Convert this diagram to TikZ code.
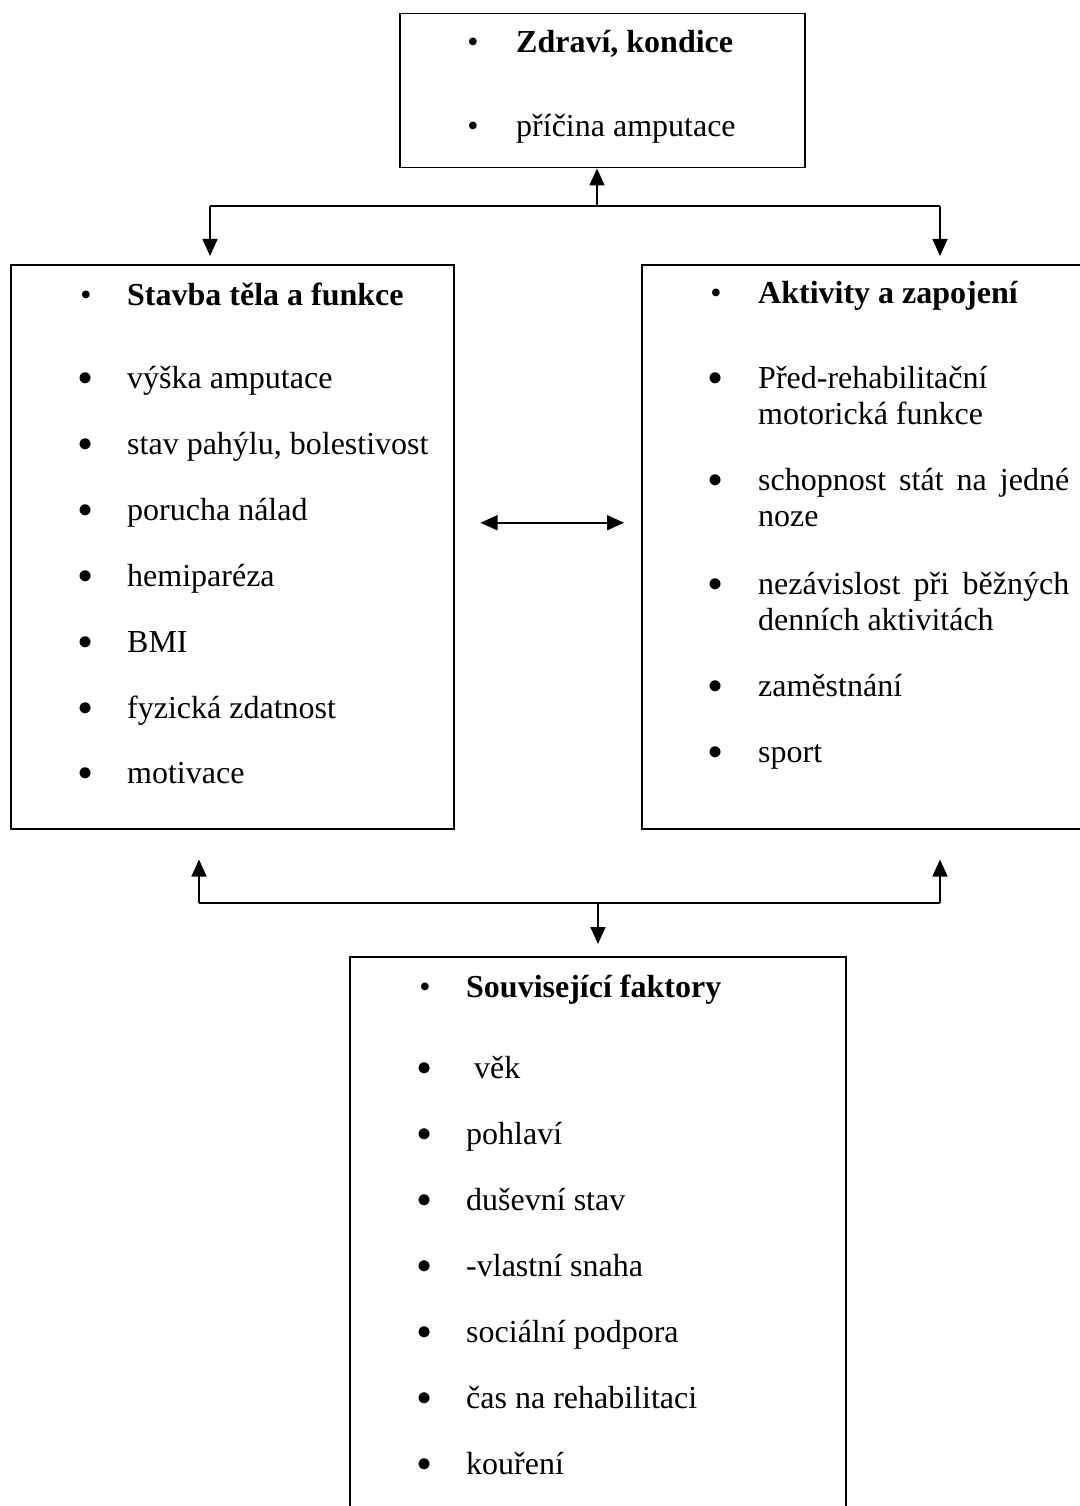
\documentclass[tikz,border=0pt]{standalone}
\usepackage{fontspec}
\setmainfont{Liberation Serif}
\usetikzlibrary{arrows.meta, positioning, calc}

\begin{document}
\begin{tikzpicture}[
    x=1pt, y=-1pt,
    every node/.style={font=\fontsize{32}{37}\selectfont, inner sep=0pt},
    box/.style={rectangle, draw=black, line width=1.5pt, anchor=north west},
    item/.style={anchor=base west},
    ttl/.style={anchor=base west, font=\fontsize{32}{37}\selectfont\bfseries},
    hdot/.style={anchor=base, font=\fontsize{32}{32}\selectfont},
    ldot/.style={anchor=base, font=\fontsize{46}{46}\selectfont, yshift=-5pt},
    link/.style={line width=1.6pt},
    arr/.style={-{Triangle[length=17pt, width=15pt]}, line width=1.6pt},
    dblarr/.style={{Triangle[length=17pt, width=15pt]}-{Triangle[length=17pt, width=15pt]}, line width=1.6pt},
]
\useasboundingbox (0,0) rectangle (1079,1506);

% ---------------------------------------------------------------- boxes
\node[box, minimum width=405pt, minimum height=154pt] (zdravi) at (399,13) {};
\node[box, minimum width=443pt, minimum height=564pt] (stavba) at (10,264) {};
\node[box, minimum width=460pt, minimum height=564pt] (aktivity) at (641,264) {};
\node[box, minimum width=496pt, minimum height=600pt] (faktory) at (349,956) {};

% ---------------------------------------------------------------- top box
\node[hdot] at (473,53) {•};
\node[ttl] (zdravi-t) at (516,53) {Zdraví, kondice};
\node[hdot] at (473,137) {•};
\node[item] at (516,137) {příčina amputace};

% ---------------------------------------------------------------- left box
\node[hdot] at (86,305) {•};
\node[ttl] (stavba-t) at (127,305) {Stavba těla a funkce};
\foreach \y/\name in {388/výška amputace, 454/{stav pahýlu, bolestivost},
    520/porucha nálad, 586/hemiparéza, 652/BMI, 718/fyzická zdatnost,
    783/motivace}{
    \node[ldot] at (86,\y) {•};
    \node[item] at (127,\y) {\name};
}

% ---------------------------------------------------------------- right box
\node[hdot] at (716,303) {•};
\node[ttl] (aktivity-t) at (758,303) {Aktivity a zapojení};
\foreach \y in {388,490,594,696,762}{
    \node[ldot] at (716,\y) {•};
}
\node[item] at (758,388) {Před-rehabilitační};
\node[item] at (758,424) {motorická funkce};
\node[item] at (758,490) {\makebox[311pt][s]{schopnost stát na jedné}};
\node[item] at (758,526) {noze};
\node[item] at (758,594) {\makebox[311pt][s]{nezávislost při běžných}};
\node[item] at (758,630) {denních aktivitách};
\node[item] at (758,696) {zaměstnání};
\node[item] at (758,762) {sport};

% ---------------------------------------------------------------- bottom box
\node[hdot] at (425,997) {•};
\node[ttl] (faktory-t) at (466,997) {Související faktory};
\foreach \y/\name in {1078/{\ věk}, 1144/pohlaví, 1210/duševní stav,
    1276/-vlastní snaha, 1342/sociální podpora, 1408/čas na rehabilitaci,
    1474/kouření}{
    \node[ldot] at (425,\y) {•};
    \node[item] at (466,\y) {\name};
}

% ---------------------------------------------------------------- connectors
\coordinate (jt) at (597,206);
\coordinate (jtl) at (210,206);
\coordinate (jtr) at (940,206);
\draw[link] (jtl) -- (jtr);
\draw[arr] (jt) -- (jt |- zdravi.south);
\draw[arr] (jtl) -- ([yshift=8pt]jtl |- stavba.north);
\draw[arr] (jtr) -- ([yshift=8pt]jtr |- aktivity.north);

\draw[dblarr] ([xshift=26pt, yshift=24pt]stavba.east)
    -- ([xshift=-17pt, yshift=24pt]aktivity.west);

\coordinate (jb) at (598,903);
\coordinate (jbl) at (199,903);
\coordinate (jbr) at (940,903);
\draw[link] (jbl) -- (jbr);
\draw[arr] (jbl) -- ([yshift=-30pt]jbl |- stavba.south);
\draw[arr] (jbr) -- ([yshift=-30pt]jbr |- aktivity.south);
\draw[arr] (jb) -- ([yshift=12pt]jb |- faktory.north);

\end{tikzpicture}
\end{document}
